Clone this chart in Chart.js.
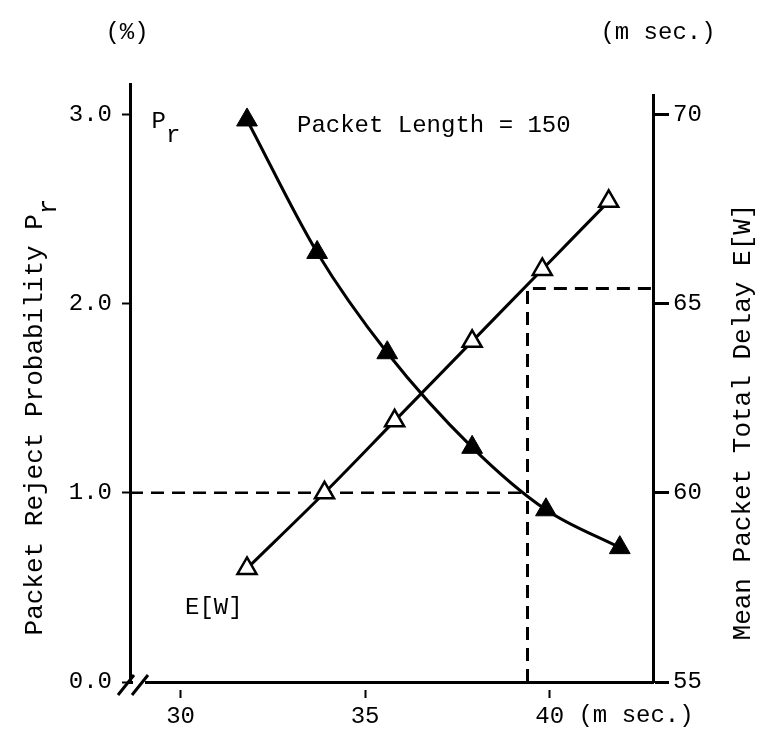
<!DOCTYPE html>
<html>
<head>
<meta charset="utf-8">
<script src="https://cdn.jsdelivr.net/npm/chart.js@4.4.1/dist/chart.umd.min.js"></script>
<style>
  html, body { margin: 0; padding: 0; background: #fff; }
  #wrap { width: 766px; height: 737px; }
</style>
</head>
<body>
<div id="wrap"><canvas id="chart" width="766" height="737"></canvas></div>
<script>
// Values
const rejectX = [31.8, 33.7, 35.6, 37.9, 39.9, 41.9];
const rejectProb = [2.97, 2.27, 1.74, 1.24, 0.91, 0.71];
const delayX = [31.8, 33.9, 35.8, 37.9, 39.8, 41.6];
const meanDelay = [58.0, 60.0, 61.9, 64.0, 65.9, 67.7];

// Operating point (dashed guides)
const guideX = 39.4;
const guideProb = 1.0;
const guideDelay = 65.4;

// Tick labels
const xTicks = [30, 35, 40];
const probTicks = [0, 1, 2, 3];
const delayTicks = [55, 60, 65, 70];

const xMin = 28.63, xMax = 42.8;
const FONT = '"Liberation Mono", "DejaVu Sans Mono", monospace';

const toPoints = (xs, ys) => xs.map((x, i) => ({ x: x, y: ys[i] }));

// Draw text with a subscript; rotated text reads bottom-to-top
function subText(ctx, x, y, main, sub, size, rotate) {
  ctx.save();
  ctx.translate(x, y);
  if (rotate) ctx.rotate(-Math.PI / 2);
  ctx.font = size + 'px ' + FONT;
  ctx.textBaseline = 'middle';
  const w1 = ctx.measureText(main).width;
  const w2 = sub ? ctx.measureText(sub).width : 0;
  let start = -(w1 + w2) / 2;
  ctx.textAlign = 'left';
  ctx.fillText(main, start, 0);
  if (sub) ctx.fillText(sub, start + w1, size * 0.55);
  ctx.restore();
}

const decorations = {
  id: 'decorations',
  afterDraw(chart) {
    const ctx = chart.ctx;
    const xs = chart.scales.x;
    const area = chart.chartArea;
    ctx.save();
    ctx.fillStyle = '#000';
    ctx.font = '24px ' + FONT;
    ctx.textBaseline = 'middle';
    ctx.textAlign = 'center';
    ctx.fillText('(%)', 127, 33);
    ctx.fillText('(m sec.)', 658, 33);

    // unit after the 40 tick label
    ctx.textAlign = 'left';
    const p40 = xs.getPixelForValue(40);
    const half = ctx.measureText('40').width / 2;
    ctx.fillText('(m sec.)', p40 + half + ctx.measureText(' ').width, 716);

    // in-plot labels
    ctx.fillText('Packet Length = 150', 297, 126);
    ctx.fillText('E[W]', 185, 608);
    subText(ctx, 166, 122, 'P', 'r', 24, false);

    // axis titles
    subText(ctx, 35, 417, 'Packet Reject Probability P', 'r', 26, true);
    subText(ctx, 743, 422, 'Mean Packet Total Delay E[W]', '', 26, true);

    // right axis starts a little lower than the left one
    ctx.fillStyle = '#fff';
    ctx.fillRect(area.right - 3, area.top - 2, 6, 12);

    // axis break marks
    const by = area.bottom;
    ctx.fillRect(area.left + 3, by - 3, 12, 6);
    ctx.strokeStyle = '#000';
    ctx.lineWidth = 3;
    ctx.beginPath();
    ctx.moveTo(area.left - 12, by + 13); ctx.lineTo(area.left + 4, by - 7);
    ctx.moveTo(area.left + 2, by + 13); ctx.lineTo(area.left + 18, by - 7);
    ctx.stroke();
    ctx.restore();
  }
};

const tickFont = { family: FONT, size: 24 };

new Chart(document.getElementById('chart'), {
  type: 'line',
  data: {
    datasets: [{
      label: 'Pr',
      data: toPoints(rejectX, rejectProb),
      yAxisID: 'y',
      borderColor: '#000',
      borderWidth: 3,
      cubicInterpolationMode: 'monotone',
      pointStyle: 'triangle',
      pointRadius: 12,
      pointBackgroundColor: '#000',
      pointBorderColor: '#000',
      pointBorderWidth: 1
    }, {
      label: 'E[W]',
      data: toPoints(delayX, meanDelay),
      yAxisID: 'y2',
      borderColor: '#000',
      borderWidth: 3,
      cubicInterpolationMode: 'monotone',
      pointStyle: 'triangle',
      pointRadius: 11,
      pointBackgroundColor: '#fff',
      pointBorderColor: '#000',
      pointBorderWidth: 2.5
    }, {
      label: 'guide Pr',
      data: [{ x: xMin, y: guideProb }, { x: guideX, y: guideProb }],
      yAxisID: 'y',
      borderColor: '#000',
      borderWidth: 2.5,
      borderDash: [13, 8],
      pointRadius: 0,
      tension: 0
    }, {
      label: 'guide E[W]',
      data: [{ x: guideX, y: delayTicks[0] }, { x: guideX, y: guideDelay }, { x: xMax, y: guideDelay }],
      yAxisID: 'y2',
      borderColor: '#000',
      borderWidth: 3,
      borderDash: [13, 8],
      pointRadius: 0,
      tension: 0
    }]
  },
  options: {
    responsive: false,
    animation: false,
    devicePixelRatio: 1,
    layout: { padding: { top: 84, left: 0, right: 0, bottom: 0 } },
    plugins: { legend: { display: false }, tooltip: { enabled: false } },
    scales: {
      x: {
        type: 'linear',
        min: xMin,
        max: xMax,
        afterBuildTicks: (s) => { s.ticks = xTicks.map(v => ({ value: v })); },
        afterFit: (s) => { s.height = 55; },
        border: { color: '#000', width: 3 },
        grid: { drawOnChartArea: false, drawTicks: true, tickLength: 16, tickColor: '#000', tickWidth: 2, tickBorderDash: [0, 6, 20] },
        ticks: { color: '#000', font: tickFont, padding: 4, maxRotation: 0 }
      },
      y: {
        type: 'linear',
        position: 'left',
        min: 0,
        max: 3.16,
        afterBuildTicks: (s) => { s.ticks = probTicks.map(v => ({ value: v })); },
        afterFit: (s) => { s.width = 130; },
        border: { color: '#000', width: 3 },
        grid: { drawOnChartArea: false, drawTicks: true, tickLength: 8, tickColor: '#000', tickWidth: 2 },
        ticks: { color: '#000', font: tickFont, padding: 10, callback: (v) => v.toFixed(1) }
      },
      y2: {
        type: 'linear',
        position: 'right',
        min: 55,
        max: 70.8,
        afterBuildTicks: (s) => { s.ticks = delayTicks.map(v => ({ value: v })); },
        afterFit: (s) => { s.width = 113; },
        border: { color: '#000', width: 3 },
        grid: { drawOnChartArea: false, drawTicks: true, tickLength: 16, tickColor: '#000', tickWidth: 3 },
        ticks: { color: '#000', font: tickFont, padding: 4 }
      }
    }
  },
  plugins: [decorations]
});
</script>
</body>
</html>
